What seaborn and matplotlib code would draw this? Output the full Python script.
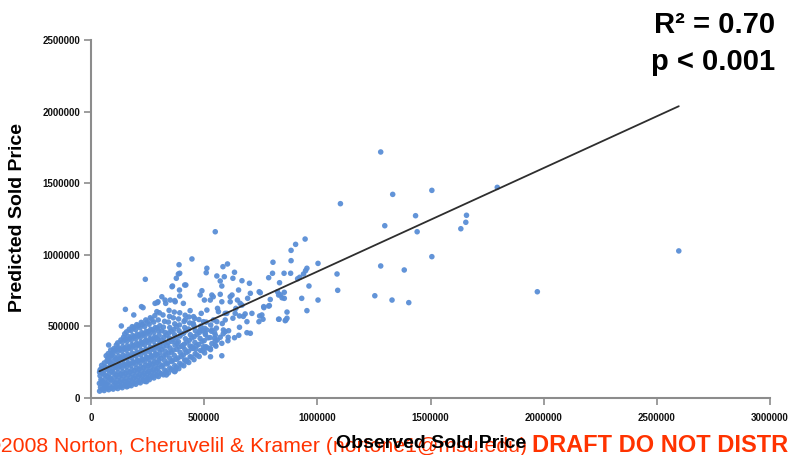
import numpy as np
import pandas as pd
import matplotlib
matplotlib.use("Agg")
import matplotlib.pyplot as plt
import seaborn as sns

# ---------------- data (prices in thousands of dollars) ----------------
x_ticks = [0, 500000, 1000000, 1500000, 2000000, 2500000, 3000000]
y_ticks = [0, 500000, 1000000, 1500000, 2000000, 2500000]

trend_slope = 0.723
trend_intercept = 160000
r2_text = "R\u00b2 = 0.70"
p_text = "p < 0.001"

# sparse / outlying houses (observed, predicted) in $K
sparse_points_k = [
    (1280, 1718), (1333, 1422), (1506, 1450), (1102, 1357), (1434, 1273), (1298, 1203),
    (1441, 1161), (1659, 1276), (1656, 1227), (1634, 1182), (1506, 987), (1280, 922),
    (1384, 894), (1087, 866), (1090, 752), (1254, 714), (1330, 684), (1404, 666),
    (1003, 940), (1003, 684), (954, 610), (946, 1110), (904, 1073), (884, 1031),
    (884, 959), (804, 948), (549, 1161), (446, 971), (240, 829), (389, 931),
    (603, 936), (583, 917), (512, 906), (509, 875), (634, 878), (802, 871),
    (853, 871), (882, 871), (785, 840), (922, 843), (948, 889), (954, 906),
    (963, 782), (833, 805), (854, 738), (836, 721), (931, 696), (866, 600),
    (861, 545), (831, 550), (764, 631), (788, 645), (760, 550), (742, 533),
    (704, 452), (653, 438), (634, 421), (606, 424), (578, 295), (528, 288),
    (504, 347), (549, 398), (549, 370), (463, 340), (423, 265), (372, 189),
    (1795, 1471), (1972, 742), (2597, 1027),
    (939, 866), (913, 833), (748, 735), (824, 742), (829, 719), (844, 700),
    (854, 696), (866, 557), (858, 540), (755, 580),
]

# medium-density houses around the main cloud, $K
mid_points_k = [
    (556, 852), (589, 847), (627, 836), (667, 819), (386, 866), (419, 789),
    (360, 782), (490, 749), (391, 754), (571, 817), (578, 782), (652, 754),
    (623, 719), (571, 724), (534, 719), (527, 684), (501, 684), (615, 672),
    (647, 684), (667, 649), (692, 696), (700, 801), (640, 626), (681, 587),
    (656, 573), (627, 557), (593, 591), (559, 626), (541, 545), (512, 614),
    (487, 591), (453, 568), (416, 545), (497, 533), (456, 498), (482, 475),
    (512, 475), (546, 456), (546, 417), (571, 424), (689, 456), (656, 494),
    (689, 533), (593, 463), (527, 347), (497, 358), (446, 358), (406, 358),
    (379, 382), (350, 684), (313, 707), (283, 661), (291, 603), (327, 684),
    (372, 672), (408, 661), (377, 836), (392, 871), (358, 777), (414, 789),
    (392, 712), (296, 672), (230, 631), (152, 619), (370, 680),
    (711, 591), (745, 573), (763, 638), (785, 642), (829, 550), (792, 688),
    (743, 742), (704, 731), (659, 661), (637, 591), (600, 591), (563, 603),
    (578, 672), (540, 707), (482, 719), (615, 707), (673, 570), (593, 545),
    (556, 533), (585, 475), (534, 475), (549, 440), (504, 452), (451, 522),
    (134, 503), (189, 580), (223, 638), (293, 666), (330, 661), (78, 370),
    (90, 307), (75, 277), (40, 196), (49, 103), (61, 75), (164, 84),
    (245, 114), (333, 161), (370, 184), (414, 265),
]

# dense cloud of typical houses, $K
dense_points_k = [
    (38, 48), (42, 75), (37, 102), (44, 128), (40, 155), (38, 180), (45, 205),
    (58, 52), (62, 80), (55, 108), (64, 135), (60, 162), (57, 190), (63, 218), (59, 245),
    (78, 58), (82, 86), (75, 112), (84, 140), (80, 168), (77, 196), (85, 224), (79, 252),
    (83, 282), (76, 310),
    (98, 62), (102, 90), (95, 118), (104, 146), (100, 174), (97, 202), (105, 230), (99, 258),
    (103, 288), (96, 318), (101, 345),
    (118, 66), (122, 95), (115, 122), (124, 150), (120, 178), (117, 206), (125, 234),
    (119, 262), (123, 292), (116, 322), (121, 352), (118, 385),
    (138, 72), (142, 100), (135, 128), (144, 156), (140, 184), (137, 212), (145, 240),
    (139, 268), (143, 298), (136, 328), (141, 358), (138, 390), (144, 425),
    (158, 78), (162, 106), (155, 134), (164, 162), (160, 190), (157, 218), (165, 246),
    (159, 274), (163, 304), (156, 334), (161, 364), (158, 396), (164, 430), (157, 462),
    (178, 86), (182, 114), (175, 142), (184, 170), (180, 198), (177, 226), (185, 254),
    (179, 282), (183, 312), (176, 342), (181, 372), (178, 404), (184, 436), (177, 470),
    (182, 498),
    (198, 96), (202, 124), (195, 152), (204, 180), (200, 208), (197, 236), (205, 264),
    (199, 292), (203, 322), (196, 352), (201, 382), (198, 414), (204, 446), (197, 478),
    (202, 512),
    (218, 106), (222, 134), (215, 162), (224, 190), (220, 218), (217, 246), (225, 274),
    (219, 302), (223, 332), (216, 362), (221, 392), (218, 424), (224, 456), (217, 490),
    (222, 528),
    (238, 116), (242, 144), (235, 172), (244, 200), (240, 228), (237, 256), (245, 284),
    (239, 312), (243, 342), (236, 372), (241, 402), (238, 434), (244, 466), (237, 500),
    (242, 545),
    (258, 128), (262, 156), (255, 184), (264, 212), (260, 240), (257, 268), (265, 296),
    (259, 324), (263, 354), (256, 384), (261, 414), (258, 446), (264, 480), (257, 515),
    (262, 560),
    (278, 140), (282, 168), (275, 196), (284, 224), (280, 252), (277, 280), (285, 308),
    (279, 336), (283, 366), (276, 396), (281, 426), (278, 458), (284, 492), (277, 530),
    (282, 575),
    (298, 150), (302, 178), (295, 206), (304, 234), (300, 262), (297, 290), (305, 318),
    (299, 346), (303, 376), (296, 406), (301, 438), (298, 470), (304, 505), (297, 545),
    (302, 595),
    (320, 162), (326, 195), (318, 228), (325, 262), (321, 295), (328, 328), (319, 360),
    (324, 392), (322, 425), (327, 458), (320, 495), (325, 535), (318, 580),
    (342, 175), (348, 210), (340, 245), (347, 280), (343, 315), (349, 350), (341, 385),
    (346, 420), (344, 455), (348, 492), (342, 530), (347, 570), (345, 612),
    (365, 190), (370, 226), (362, 262), (368, 298), (364, 334), (371, 370), (363, 406),
    (369, 442), (366, 478), (370, 518), (364, 560), (368, 600),
    (388, 205), (392, 242), (385, 280), (394, 318), (390, 356), (386, 394), (393, 432),
    (389, 470), (391, 510), (387, 552), (392, 595),
    (410, 225), (416, 262), (408, 300), (415, 338), (412, 376), (417, 414), (409, 452),
    (414, 492), (411, 534), (416, 578),
    (432, 248), (438, 288), (430, 326), (437, 364), (434, 402), (439, 442), (431, 482),
    (436, 524), (433, 566), (438, 610),
    (455, 268), (460, 308), (452, 348), (459, 388), (456, 428), (461, 470), (453, 512),
    (458, 556),
    (478, 290), (484, 332), (476, 374), (482, 416), (479, 458), (485, 502), (477, 548),
    (502, 315), (508, 358), (500, 400), (506, 442), (503, 486), (509, 530),
    (528, 338), (534, 380), (526, 422), (532, 466), (529, 510),
    (552, 362), (558, 405), (554, 488),
    (578, 382), (584, 448), (580, 520),
    (605, 400), (608, 470),
]

# extra houses packed between the others in the dense cloud, $K
dense_fill_points_k = [
    (50, 62), (48, 118), (52, 172), (47, 228),
    (70, 68), (68, 98), (72, 150), (69, 205), (71, 262), (67, 295),
    (90, 70), (88, 128), (92, 185), (89, 240), (91, 300), (87, 335),
    (110, 76), (108, 105), (112, 160), (109, 215), (111, 272), (107, 335), (112, 370),
    (130, 80), (128, 112), (132, 165), (129, 222), (131, 280), (127, 340), (132, 405),
    (150, 88), (148, 118), (152, 172), (149, 230), (151, 288), (147, 345), (152, 410), (149, 448),
    (170, 92), (168, 122), (172, 180), (169, 236), (171, 292), (167, 352), (172, 418), (169, 480),
    (190, 102), (188, 138), (192, 192), (189, 248), (191, 302), (187, 365), (192, 428), (189, 492),
    (210, 112), (208, 148), (212, 200), (209, 258), (211, 315), (207, 372), (212, 438), (209, 505),
    (230, 124), (228, 160), (232, 212), (229, 268), (231, 326), (227, 385), (232, 448), (229, 515),
    (250, 135), (248, 170), (252, 225), (249, 280), (251, 338), (247, 398), (252, 462), (249, 530),
    (270, 148), (268, 182), (272, 238), (269, 292), (271, 350), (267, 410), (272, 475), (269, 548),
    (290, 158), (288, 195), (292, 250), (289, 305), (291, 362), (287, 420), (292, 488),
    (310, 170), (312, 218), (309, 278), (311, 340), (310, 405), (312, 470),
    (332, 185), (334, 238), (331, 300), (335, 365), (333, 440),
    (355, 200), (356, 255), (354, 320), (357, 395), (355, 465),
    (378, 215), (377, 270), (379, 340), (376, 420), (378, 500),
    (400, 232), (399, 290), (401, 365), (398, 445),
    (422, 255), (421, 318), (423, 390), (420, 470),
    (445, 285), (444, 345), (446, 420),
    (468, 300), (467, 365), (469, 445),
    (492, 330), (491, 395), (493, 470),
    (515, 350), (516, 420),
]

# ---------------- build table ----------------
all_pts = dense_points_k + dense_fill_points_k + mid_points_k + sparse_points_k
df = pd.DataFrame(all_pts, columns=["observed", "predicted"]) * 1000

# ---------------- style ----------------
sns.set_theme(style="white")
plt.rcParams['font.family'] = ['Liberation Sans', 'DejaVu Sans']

W, H = 788, 455
fig = plt.figure(figsize=(W / 100, H / 100), dpi=100)
ax = fig.add_axes([91 / W, (H - 398) / H, (770 - 91) / W, (398 - 40) / H])

sns.scatterplot(data=df, x="observed", y="predicted", ax=ax, color="#5A8ED6",
                s=16, edgecolor="none", linewidth=0, alpha=0.95, zorder=2)

line_x = np.array([df["observed"].min(), df["observed"].max()])
line_df = pd.DataFrame({"x": line_x, "y": trend_intercept + trend_slope * line_x})
sns.lineplot(data=line_df, x="x", y="y", ax=ax, color="#2E2E2E", linewidth=1.3, zorder=3)

ax.set_xlim(0, 3000000)
ax.set_ylim(0, 2500000)
ax.set_xticks(x_ticks)
ax.set_yticks(y_ticks)
ax.set_xticklabels([str(v) for v in x_ticks], fontsize=7, fontweight="bold", color="#111111")
ax.set_yticklabels([str(v) for v in y_ticks], fontsize=7, fontweight="bold", color="#111111")
ax.tick_params(axis="both", which="major", direction="out", length=5, width=1.2,
               color="#8C8C8C", bottom=True, left=True, pad=3)
ax.tick_params(axis="x", pad=6)
ax.set_xlabel("")
ax.set_ylabel("")
for s in ["top", "right"]:
    ax.spines[s].set_visible(False)
for s in ["left", "bottom"]:
    ax.spines[s].set_color("#8C8C8C")
    ax.spines[s].set_linewidth(1.5)
ax.grid(False)

# axis titles
fig.text(18 / W, 1 - 218 / H, "Predicted Sold Price", rotation=90, ha="center", va="center",
         fontsize=14, fontweight="bold", color="black")

# footer
fig.text(-15 / W, 3 / H, "\u00a92008 Norton, Cheruvelil & Kramer (nortone1@msu.edu)",
         ha="left", va="baseline", fontsize=15.3, color="#FF3300")
fig.text(532 / W, 3 / H, "DRAFT DO NOT DISTRIBUTE", ha="left", va="baseline",
         fontsize=17, fontweight="bold", color="#FF3300")
fig.text(431 / W, 7 / H, "Observed Sold Price", ha="center", va="baseline",
         fontsize=14, fontweight="bold", color="black")

# statistics
fig.text(775 / W, 1 - 25 / H, r2_text, ha="right", va="center", fontsize=21,
         fontweight="bold", color="black")
fig.text(775 / W, 1 - 62 / H, p_text, ha="right", va="center", fontsize=21,
         fontweight="bold", color="black")

fig.savefig("out.png", dpi=100)
